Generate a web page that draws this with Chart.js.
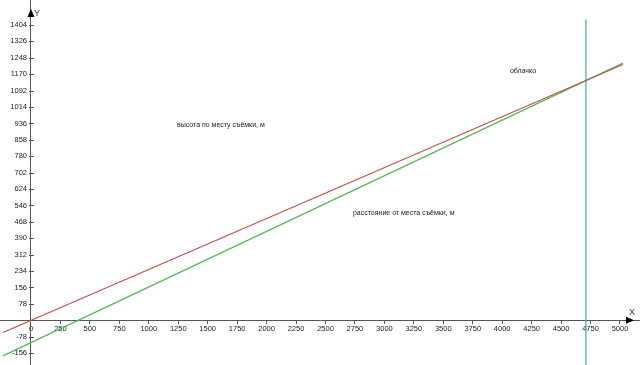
<!DOCTYPE html>
<html>
<head>
<meta charset="utf-8">
<script src="https://cdn.jsdelivr.net/npm/chart.js@4.4.0/dist/chart.umd.min.js"></script>
<style>
  html, body { margin: 0; padding: 0; background: #fff; }
  #wrap { width: 640px; height: 365px; position: relative; }
</style>
</head>
<body>
<div id="wrap"><canvas id="plot"></canvas></div>
<script>
// Data
const xTicks = [0, 250, 500, 750, 1000, 1250, 1500, 1750, 2000, 2250, 2500, 2750, 3000, 3250, 3500, 3750, 4000, 4250, 4500, 4750, 5000];
const yTicks = [-156, -78, 78, 156, 234, 312, 390, 468, 546, 624, 702, 780, 858, 936, 1014, 1092, 1170, 1248, 1326, 1404];

const heightX = [-238, 5025];       // высота по месту съёмки (red)
const heightY = [-58, 1216];
const distanceX = [-238, 5025];     // расстояние от места съёмки (green)
const distanceY = [-169, 1223];
const cloudX = [4711, 4711];        // облачко (cyan vertical)
const cloudY = [1430, -215];

const labelTexts = ['высота по месту съёмки, м', 'расстояние от места съёмки, м', 'облачко'];
const labelAt = [[1239, 929], [2733, 510], [4066, 1185]];

const toPts = (xs, ys) => xs.map((x, i) => ({ x: x, y: ys[i] }));

const AXIS = '#555';
const FONT = '"Liberation Sans", Arial, sans-serif';

// no extra room for tick labels: the axes sit inside the plot
const noPad = s => { s.paddingTop = 0; s.paddingBottom = 0; s.paddingLeft = 0; s.paddingRight = 0; };

// arrows, axis names, y tick labels and text notes
const decor = {
    id: 'decor',
    afterDraw(chart) {
        const c = chart.ctx;
        const xs = chart.scales.x, ys = chart.scales.y;
        const ox = xs.getPixelForValue(0), oy = ys.getPixelForValue(0);
        c.save();
        c.fillStyle = '#000';
        // X arrow
        const ax = 634;
        c.beginPath();
        c.moveTo(ax, oy);
        c.lineTo(ax - 8, oy - 3.5);
        c.lineTo(ax - 8, oy + 3.5);
        c.closePath();
        c.fill();
        // Y arrow
        const ay = 9;
        c.beginPath();
        c.moveTo(ox, ay);
        c.lineTo(ox - 3.5, ay + 8);
        c.lineTo(ox + 3.5, ay + 8);
        c.closePath();
        c.fill();
        c.font = '9px ' + FONT;
        c.fillStyle = '#333';
        c.textBaseline = 'middle';
        c.textAlign = 'left';
        c.fillText('X', 629, oy - 8);
        c.fillText('Y', ox + 3, 14);

        // y tick labels to the left of the axis, tick marks across it
        c.font = '7.5px ' + FONT;
        c.fillStyle = '#222';
        c.textAlign = 'right';
        c.strokeStyle = AXIS;
        c.lineWidth = 1;
        yTicks.forEach(v => {
            const py = ys.getPixelForValue(v);
            c.fillText(String(v), ox - 4, py);
            c.beginPath();
            c.moveTo(ox - 2, Math.round(py) + 0.5);
            c.lineTo(ox + 3, Math.round(py) + 0.5);
            c.stroke();
        });

        // notes
        c.font = '7px ' + FONT;
        c.textAlign = 'left';
        labelTexts.forEach((t, i) => {
            c.fillText(t, xs.getPixelForValue(labelAt[i][0]), ys.getPixelForValue(labelAt[i][1]));
        });
        c.restore();
    }
};

new Chart(document.getElementById('plot'), {
    type: 'scatter',
    data: {
        datasets: [
            {
                label: labelTexts[0],
                data: toPts(heightX, heightY),
                showLine: true,
                borderColor: '#c0504d',
                borderWidth: 1.2,
                pointRadius: 0
            },
            {
                label: labelTexts[1],
                data: toPts(distanceX, distanceY),
                showLine: true,
                borderColor: '#55b855',
                borderWidth: 1.2,
                pointRadius: 0
            },
            {
                label: labelTexts[2],
                data: toPts(cloudX, cloudY),
                showLine: true,
                borderColor: '#3fb0b0',
                borderWidth: 1.2,
                pointRadius: 0
            }
        ]
    },
    options: {
        responsive: true,
        maintainAspectRatio: false,
        animation: false,
        layout: { padding: 0 },
        plugins: {
            legend: { display: false },
            tooltip: { enabled: false }
        },
        scales: {
            x: {
                type: 'linear',
                position: { y: 0 },
                min: -263,
                max: 5170,
                afterBuildTicks: s => { s.ticks = xTicks.map(v => ({ value: v })); },
                afterFit: noPad,
                border: { color: AXIS, width: 1 },
                grid: { drawOnChartArea: false, drawTicks: true, tickLength: 3, color: AXIS },
                ticks: {
                    color: '#222',
                    font: { size: 7.5, family: FONT },
                    padding: 1,
                    maxRotation: 0,
                    autoSkip: false,
                    callback: v => String(v)
                }
            },
            y: {
                type: 'linear',
                position: { x: 0 },
                min: -212.5,
                max: 1523,
                afterBuildTicks: s => { s.ticks = yTicks.map(v => ({ value: v })); },
                afterFit: noPad,
                border: { color: AXIS, width: 1 },
                grid: { display: false },
                ticks: { display: false }
            }
        }
    },
    plugins: [decor]
});
</script>
</body>
</html>
